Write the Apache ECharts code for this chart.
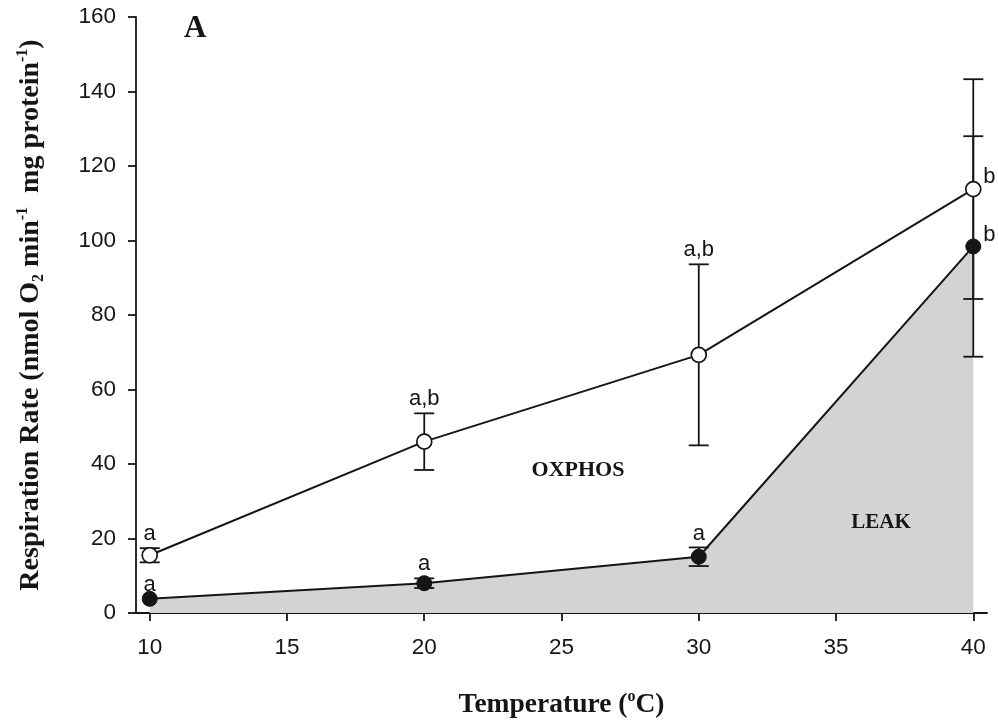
<!DOCTYPE html>
<html>
<head>
<meta charset="utf-8">
<script src="https://cdn.jsdelivr.net/npm/echarts@6/dist/echarts.min.js"></script>
<style>html,body{margin:0;padding:0;background:#fff}#c{width:998px;height:725px}</style>
</head>
<body>
<div id="c"></div>
<script>
// ---- data ----
const temps = [10, 20, 30, 40];
const oxphos = [15.5, 46.0, 69.3, 113.8];
const oxphosErr = [1.9, 7.6, 24.3, 29.5];
const leak = [3.8, 8.0, 15.1, 98.4];
const leakErr = [0, 1.3, 2.5, 29.6];
const oxphosLetters = ['a', 'a,b', 'a,b', 'b'];
const leakLetters = ['a', 'a', 'a', 'b'];
const xTicks = [10, 15, 20, 25, 30, 35, 40];
const yTicks = [0, 20, 40, 60, 80, 100, 120, 140, 160];

const INK = '#151515';
const sans = 'Liberation Sans, Arial, Helvetica, sans-serif';
const serif = 'Liberation Serif, Times New Roman, serif';

const pts = (ys) => temps.map((t, i) => [t, ys[i]]);
const errData = (ys, es) => temps.map((t, i) => [t, ys[i] - es[i], ys[i] + es[i]]);
const letterData = (ys, es) => temps.map((t, i) => [t, ys[i], ys[i] + es[i]]);

function renderErr(params, api) {
  const x = api.value(0);
  const lo = api.value(1), hi = api.value(2);
  if (hi - lo <= 0) return { type: 'group', children: [] };
  const pLo = api.coord([x, lo]);
  const pHi = api.coord([x, hi]);
  const w = 10;
  const st = { stroke: INK, lineWidth: 1.8 };
  return {
    type: 'group',
    children: [
      { type: 'line', shape: { x1: pLo[0], y1: pLo[1], x2: pHi[0], y2: pHi[1] }, style: st },
      { type: 'line', shape: { x1: pHi[0] - w, y1: pHi[1], x2: pHi[0] + w, y2: pHi[1] }, style: st },
      { type: 'line', shape: { x1: pLo[0] - w, y1: pLo[1], x2: pLo[0] + w, y2: pLo[1] }, style: st }
    ]
  };
}

function makeLetterRender(letters) {
  return function (params, api) {
    const i = params.dataIndex;
    const x = api.value(0);
    const last = i === temps.length - 1;
    let px, py, align, va;
    if (last) {
      const p = api.coord([x, api.value(1)]);
      px = p[0] + 10; py = p[1] - 12; align = 'left'; va = 'middle';
    } else {
      const p = api.coord([x, api.value(2)]);
      px = p[0]; py = p[1] - 3; align = 'center'; va = 'bottom';
    }
    return {
      type: 'text',
      x: px, y: py,
      style: { text: letters[i], fill: INK, font: '22px ' + sans, align: align, verticalAlign: va }
    };
  };
}

const chart = echarts.init(document.getElementById('c'), null, { renderer: 'canvas' });
chart.setOption({
  backgroundColor: '#ffffff',
  animation: false,
  grid: { left: 136, right: 11, top: 17, bottom: 112, containLabel: false },
  xAxis: {
    type: 'value', min: 9.5, max: 40.5,
    name: '{b|Temperature (}{sup|o}{b|C)}',
    nameLocation: 'middle', nameGap: 74,
    nameTextStyle: {
      rich: {
        b: { fontFamily: serif, fontWeight: 'bold', fontSize: 27.5, color: INK, lineHeight: 32, verticalAlign: 'bottom' },
        sup: { fontFamily: serif, fontWeight: 'bold', fontSize: 16, color: INK, lineHeight: 32, verticalAlign: 'top', padding: [2, 0, 0, 0] }
      }
    },
    axisLine: { show: true, onZero: false, lineStyle: { color: INK, width: 1.8 } },
    axisTick: { show: true, inside: false, length: 8, customValues: xTicks, lineStyle: { color: INK, width: 1.8 } },
    axisLabel: { customValues: xTicks, margin: 23, fontFamily: sans, fontSize: 22.5, color: INK },
    splitLine: { show: false }
  },
  yAxis: {
    type: 'value', min: 0, max: 160, interval: 20,
    name: '{b|Respiration Rate (nmol O}{sub|2}{b| min}{sup|-1}{b|  mg protein}{sup|-1}{b|)}',
    nameLocation: 'middle', nameGap: 89, nameRotate: 90,
    nameTextStyle: {
      rich: {
        b: { fontFamily: serif, fontWeight: 'bold', fontSize: 28, color: INK, lineHeight: 32 },
        sup: { fontFamily: serif, fontWeight: 'bold', fontSize: 16, color: INK, lineHeight: 32, verticalAlign: 'top' },
        sub: { fontFamily: serif, fontWeight: 'bold', fontSize: 16, color: INK, lineHeight: 32, verticalAlign: 'bottom' }
      }
    },
    axisLine: { show: true, lineStyle: { color: INK, width: 1.8 } },
    axisTick: { show: true, inside: false, length: 8, lineStyle: { color: INK, width: 1.8 } },
    axisLabel: { margin: 20, fontFamily: sans, fontSize: 22.5, color: INK, formatter: (v) => (yTicks.indexOf(v) >= 0 ? String(v) : '') },
    splitLine: { show: false }
  },
  graphic: [
    { type: 'text', left: 184, top: 13, style: { text: 'A', font: 'bold 31px ' + serif, fill: INK } },
    { type: 'text', x: 578, y: 470, style: { text: 'OXPHOS', font: 'bold 22px ' + serif, fill: INK, align: 'center', verticalAlign: 'middle' }, z: 10 },
    { type: 'text', x: 881, y: 523, style: { text: 'LEAK', font: 'bold 21px ' + serif, fill: INK, align: 'center', verticalAlign: 'middle' }, z: 10 }
  ],
  series: [
    {
      name: 'LEAK area', type: 'line', data: pts(leak), z: 1, silent: true,
      symbol: 'none', lineStyle: { width: 0, opacity: 0 },
      areaStyle: { color: '#d3d3d3', opacity: 1, origin: 0 }
    },
    { name: 'OXPHOS err', type: 'custom', data: errData(oxphos, oxphosErr), renderItem: renderErr, z: 2, silent: true },
    { name: 'LEAK err', type: 'custom', data: errData(leak, leakErr), renderItem: renderErr, z: 2, silent: true },
    {
      name: 'OXPHOS', type: 'line', data: pts(oxphos), z: 3,
      symbol: 'circle', symbolSize: 15,
      lineStyle: { color: INK, width: 2 },
      itemStyle: { color: '#ffffff', borderColor: INK, borderWidth: 1.7 }
    },
    {
      name: 'LEAK', type: 'line', data: pts(leak), z: 3,
      symbol: 'circle', symbolSize: 15,
      lineStyle: { color: INK, width: 2 },
      itemStyle: { color: INK, borderColor: INK, borderWidth: 1 }
    },
    { name: 'OXPHOS letters', type: 'custom', data: letterData(oxphos, oxphosErr), renderItem: makeLetterRender(oxphosLetters), z: 4, silent: true },
    { name: 'LEAK letters', type: 'custom', data: letterData(leak, leakErr), renderItem: makeLetterRender(leakLetters), z: 4, silent: true }
  ]
});
</script>
</body>
</html>
